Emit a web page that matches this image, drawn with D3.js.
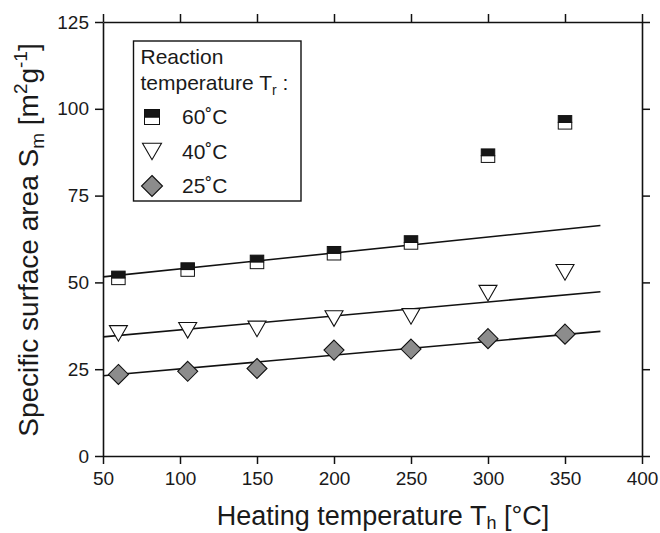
<!DOCTYPE html>
<html>
<head>
<meta charset="utf-8">
<script src="https://cdn.jsdelivr.net/npm/d3@7"></script>
<style>
  body { margin: 0; background: #fff; }
  svg { font-family: "Liberation Sans", Arial, sans-serif; }
</style>
</head>
<body>
<svg id="chart" width="660" height="533"></svg>
<script>
// heating temperatures (°C)
const heatingTemps = [60, 105, 150, 200, 250, 300, 350]

// specific surface area for each reaction temperature
const area60 = [51.3, 53.7, 55.9, 58.4, 61.5, 86.5, 96.1]
const area40 = [35.3, 36.2, 36.6, 39.6, 40.2, 46.9, 52.9]
const area25 = [23.5, 24.4, 25.2, 30.5, 30.8, 33.8, 35.1]

// linear fits: [x start, y start, x end, y end]
const fit60 = [50, 51.6, 373, 66.4]
const fit40 = [50, 34.3, 373, 47.3]
const fit25 = [50, 23.1, 373, 35.9]

const xTicks = [50, 100, 150, 200, 250, 300, 350, 400]
const yTicks = [0, 25, 50, 75, 100, 125]
const legendLabels = ['60˚C', '40˚C', '25˚C']

const svg = d3.select('#chart')

const x = d3.scaleLinear().domain([50, 400]).range([103, 642])
const y = d3.scaleLinear().domain([0, 125]).range([456, 22])

const xMinor = d3.range(75, 400, 50)
const yMinor = d3.range(12.5, 125, 25)

/**
 * draws one side of the frame: major ticks, minor ticks, optional labels
 */
const drawAxis = (axisFn, scale, major, minor, transform, labels, pad) => {
  const g = svg.append('g').attr('transform', transform)
  g.call(axisFn(scale).tickValues(minor).tickSize(5).tickSizeOuter(0).tickFormat(''))
  g.call(axisFn(scale).tickValues(major).tickSize(8).tickSizeOuter(0)
    .tickPadding(pad || 5).tickFormat(labels ? d3.format('d') : ''))
  g.selectAll('path.domain').attr('stroke', '#111').attr('stroke-width', 1.6)
  g.selectAll('line').attr('stroke', '#111').attr('stroke-width', 1.5)
  g.selectAll('text').attr('fill', '#1a1a1a').style('font-size', '19px')
    .attr('font-family', '"Liberation Sans", Arial, sans-serif')
  return g
}

drawAxis(d3.axisBottom, x, xTicks, xMinor, `translate(0,${y(0)})`, true, 8)
drawAxis(d3.axisTop, x, xTicks, xMinor, `translate(0,${y(125)})`, false)
drawAxis(d3.axisLeft, y, yTicks, yMinor, `translate(${x(50)},0)`, true, 6)
drawAxis(d3.axisRight, y, yTicks, yMinor, `translate(${x(400)},0)`, false)

// fit lines
const fits = [fit60, fit40, fit25]
svg.append('g').selectAll('line')
  .data(fits)
  .join('line')
  .attr('x1', d => x(d[0]))
  .attr('y1', d => y(d[1]))
  .attr('x2', d => x(d[2]))
  .attr('y2', d => y(d[3]))
  .attr('stroke', '#111')
  .attr('stroke-width', 1.6)

// marker drawers
const squareMarker = (g, s) => {
  g.append('rect').attr('x', -s / 2).attr('y', 0).attr('width', s).attr('height', s / 2)
    .attr('fill', '#fff').attr('stroke', '#111').attr('stroke-width', 1)
  g.append('rect').attr('x', -s / 2).attr('y', -s / 2).attr('width', s).attr('height', s / 2)
    .attr('fill', '#161616').attr('stroke', '#111').attr('stroke-width', 1)
}
const triangleMarker = (g, w) => {
  const h = w * 0.87
  g.append('path').attr('d', `M${-w / 2},${-h / 2}L${w / 2},${-h / 2}L0,${h / 2}Z`)
    .attr('fill', '#fff').attr('stroke', '#111').attr('stroke-width', 1.1)
}
const diamondMarker = (g, w) => {
  g.append('path').attr('d', `M0,${-w / 2}L${w / 2},0L0,${w / 2}L${-w / 2},0Z`)
    .attr('fill', '#8c8c8c').attr('stroke', '#111').attr('stroke-width', 1.1)
}

const series = [
  { values: area60, draw: g => squareMarker(g, 13.5), legend: g => squareMarker(g, 15) },
  { values: area40, draw: g => triangleMarker(g, 18), legend: g => triangleMarker(g, 19) },
  { values: area25, draw: g => diamondMarker(g, 20), legend: g => diamondMarker(g, 21) },
]

series.forEach(s => {
  svg.append('g').selectAll('g')
    .data(heatingTemps.map((t, i) => [t, s.values[i]]))
    .join('g')
    .attr('transform', d => `translate(${x(d[0])},${y(d[1])})`)
    .each(function() { s.draw(d3.select(this)) })
})

// legend
const legend = svg.append('g')
legend.append('rect')
  .attr('x', 133.5).attr('y', 41).attr('width', 167.5).attr('height', 160)
  .attr('fill', '#fff').attr('stroke', '#111').attr('stroke-width', 1.4)

const lt = legend.append('g').attr('fill', '#1a1a1a').style('font-size', '21px')
lt.append('text').attr('x', 140.5).attr('y', 64).text('Reaction')
const l2 = lt.append('text').attr('x', 140.5).attr('y', 90)
l2.append('tspan').text('temperature T')
l2.append('tspan').attr('dy', 5).style('font-size', '14px').text('r')
l2.append('tspan').attr('dy', -5).text(' :')

series.forEach((s, i) => {
  const cy = 117 + i * 34.5
  const g = legend.append('g').attr('transform', `translate(152,${cy})`)
  s.legend(g)
  lt.append('text').attr('x', 182).attr('y', cy + 7).text(legendLabels[i])
})

// axis titles
const xt = svg.append('text')
  .attr('x', 383).attr('y', 525)
  .attr('text-anchor', 'middle')
  .attr('fill', '#1a1a1a')
  .style('font-size', '27px')
xt.append('tspan').text('Heating temperature T')
xt.append('tspan').attr('dy', 4).style('font-size', '18px').text('h')
xt.append('tspan').attr('dy', -4).text(' [°C]')

const yt = svg.append('text')
  .attr('transform', 'translate(38,240) rotate(-90)')
  .attr('text-anchor', 'middle')
  .attr('fill', '#1a1a1a')
  .style('font-size', '28px')
yt.append('tspan').text('Specific surface area S')
yt.append('tspan').attr('dy', 6).style('font-size', '19px').text('m')
yt.append('tspan').attr('dy', -6).text(' [m')
yt.append('tspan').attr('dy', -11).style('font-size', '19px').text('2')
yt.append('tspan').attr('dy', 11).text('g')
yt.append('tspan').attr('dy', -11).style('font-size', '19px').text('-1')
yt.append('tspan').attr('dy', 11).text(']')
</script>
</body>
</html>
